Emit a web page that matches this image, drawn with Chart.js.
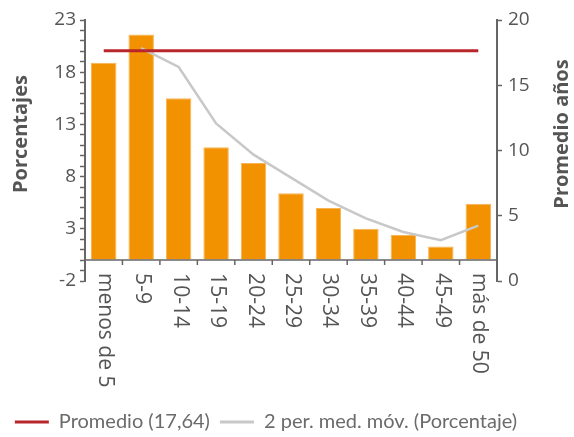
<!DOCTYPE html>
<html>
<head>
<meta charset="utf-8">
<script src="https://cdn.jsdelivr.net/npm/chart.js@4"></script>
<style>
  html, body { margin: 0; padding: 0; background: #fff; }
  #wrap { width: 574px; height: 437px; }
</style>
</head>
<body>
<div id="wrap"><canvas id="grafico"></canvas></div>
<script>
// Datos
const categorias = ['menos de 5', '5-9', '10-14', '15-19', '20-24', '25-29', '30-34', '35-39', '40-44', '45-49', 'más de 50'];
const porcentajes = [18.9, 21.6, 15.5, 10.8, 9.3, 6.4, 5.0, 3.0, 2.4, 1.3, 5.4];
const mediaMovil = [null, 20.3, 18.5, 13.1, 10.1, 7.9, 5.7, 4.0, 2.7, 1.9, 3.3];
const promedio = [17.64, 17.64, 17.64, 17.64, 17.64, 17.64, 17.64, 17.64, 17.64, 17.64, 17.64];
const ticksIzq = [-2, 3, 8, 13, 18, 23];
const ticksDer = [0, 5, 10, 15, 20];

const gris = '#666';
const fuenteTicks = { family: "'Open Sans', 'Noto Sans', sans-serif", size: 19 };

// eje x en el cero, etiquetas giradas y títulos de ejes
const ejes = {
    id: 'ejes',
    afterDraw(chart) {
        const { ctx, chartArea } = chart;
        const x = chart.scales.x;
        const y = chart.scales.y;
        const y0 = y.getPixelForValue(0);

        ctx.save();
        ctx.strokeStyle = gris;
        ctx.lineWidth = 1.5;
        ctx.beginPath();
        ctx.moveTo(chartArea.left, y0);
        ctx.lineTo(chartArea.right, y0);
        for (let i = 1; i < categorias.length; i++) {
            const xb = (x.getPixelForValue(i - 1) + x.getPixelForValue(i)) / 2;
            ctx.moveTo(xb, y0);
            ctx.lineTo(xb, y0 + 5);
        }
        ctx.stroke();

        // etiquetas de categorías, de arriba abajo
        ctx.fillStyle = '#555';
        ctx.font = "21px 'Open Sans', 'Noto Sans', sans-serif";
        ctx.textAlign = 'left';
        ctx.textBaseline = 'middle';
        categorias.forEach((c, i) => {
            ctx.save();
            ctx.translate(x.getPixelForValue(i) + 1, y0 + 13);
            ctx.rotate(Math.PI / 2);
            ctx.fillText(c, 0, 0);
            ctx.restore();
        });

        // títulos
        ctx.font = "bold 20px 'Open Sans', 'Noto Sans', sans-serif";
        ctx.textAlign = 'center';
        ctx.textBaseline = 'middle';
        const ym = 134;
        ctx.save();
        ctx.translate(21, ym);
        ctx.rotate(-Math.PI / 2);
        ctx.fillText('Porcentajes', 0, 0);
        ctx.restore();
        ctx.save();
        ctx.translate(562, ym);
        ctx.rotate(-Math.PI / 2);
        ctx.fillText('Promedio años', 0, 0);
        ctx.restore();
        ctx.restore();
    }
};

const ctx = document.getElementById('grafico').getContext('2d');
const chart = new Chart(ctx, {
    type: 'bar',
    data: {
        labels: categorias,
        datasets: [
            {
                type: 'line',
                label: 'Promedio (17,64)',
                data: promedio,
                borderColor: '#B8262C',
                backgroundColor: '#B8262C',
                borderWidth: 3,
                pointRadius: 0,
                fill: false,
                yAxisID: 'y1',
            },
            {
                type: 'line',
                label: '2 per. med. móv. (Porcentaje)',
                data: mediaMovil,
                borderColor: '#C8C8C8',
                backgroundColor: '#C8C8C8',
                borderWidth: 2.5,
                pointRadius: 0,
                tension: 0,
                fill: false,
                yAxisID: 'y',
            },
            {
                label: 'Porcentajes',
                data: porcentajes,
                backgroundColor: '#F29200',
                borderColor: '#F6B456',
                borderWidth: 1,
                categoryPercentage: 1,
                barPercentage: 0.68,
                yAxisID: 'y',
            }
        ]
    },
    options: {
        responsive: true,
        maintainAspectRatio: false,
        animation: false,
        layout: { padding: { top: 20, left: 0, right: 42, bottom: -5 } },
        plugins: {
            tooltip: { enabled: false },
            legend: {
                position: 'bottom',
                labels: {
                    boxWidth: 34,
                    boxHeight: 3,
                    padding: 10,
                    color: '#6b6b6b',
                    font: { family: "Lato, 'Open Sans', sans-serif", size: 20 },
                    generateLabels: (c) => Chart.defaults.plugins.legend.labels.generateLabels(c)
                        .filter(l => l.datasetIndex < 2)
                        .map(l => ({ ...l, lineWidth: 0 }))
                }
            }
        },
        scales: {
            x: {
                grid: { display: false },
                border: { display: false },
                ticks: { display: false },
                afterFit(s) { s.height = 121; }
            },
            y: {
                position: 'left',
                min: -2,
                max: 23,
                afterBuildTicks(s) {
                    s.ticks = [];
                    for (let v = -2; v <= 23; v++) s.ticks.push({ value: v });
                },
                ticks: {
                    autoSkip: false,
                    color: '#555',
                    font: fuenteTicks,
                    padding: 4,
                    callback: v => ticksIzq.includes(v) ? String(v) : ''
                },
                grid: { drawOnChartArea: false, tickLength: 5, tickColor: gris, tickWidth: 1.5 },
                border: { color: gris, width: 2 },
                afterFit(s) { s.width = 85; }
            },
            y1: {
                position: 'right',
                min: 0,
                max: 20,
                afterBuildTicks(s) { s.ticks = ticksDer.map(v => ({ value: v })); },
                ticks: { color: '#555', font: fuenteTicks, padding: 6 },
                grid: { drawOnChartArea: false, tickLength: 5, tickColor: gris, tickWidth: 1.5 },
                border: { color: gris, width: 2 },
                afterFit(s) { s.width = 35; }
            }
        }
    },
    plugins: [ejes]
});
</script>
</body>
</html>
